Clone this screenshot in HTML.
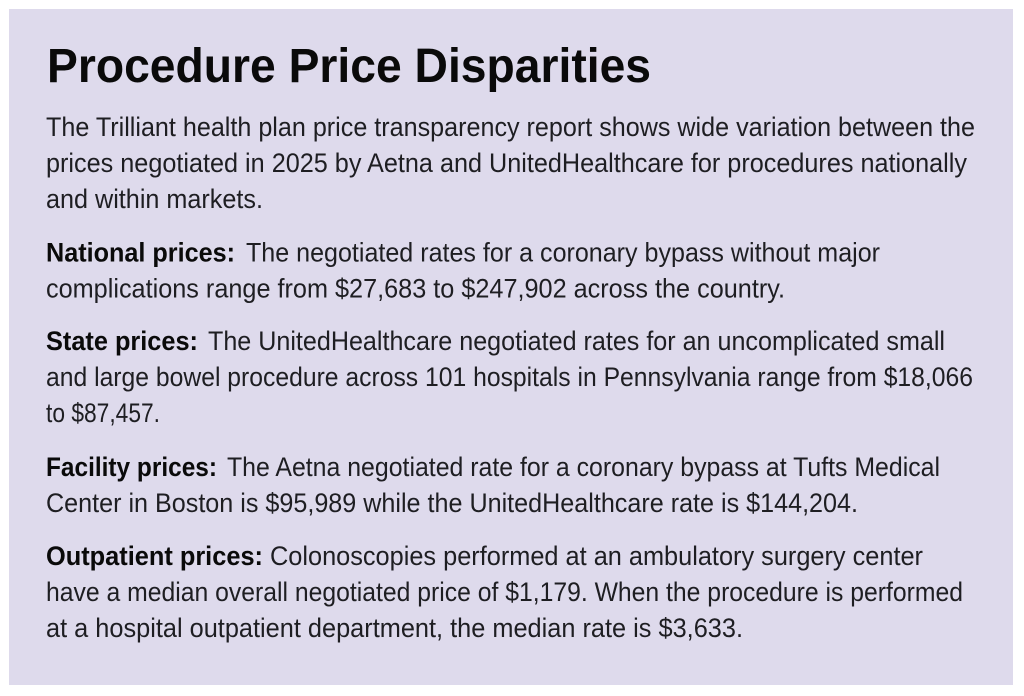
<!DOCTYPE html>
<html>
<head>
<meta charset="utf-8">
<style>
  html, body { margin:0; padding:0; background:#ffffff; }
  svg { display:block; }
  .t { font-family:"Liberation Sans", sans-serif; font-weight:bold; font-size:48px; fill:#0a0a0a; }
  .r { font-family:"Liberation Sans", sans-serif; font-size:26.5px; fill:#1e1e22; }
  .b { font-family:"Liberation Sans", sans-serif; font-weight:bold; font-size:26.5px; fill:#0a0a0a; }
</style>
</head>
<body>
<svg width="1024" height="696" viewBox="0 0 1024 696" xmlns="http://www.w3.org/2000/svg">
  <rect x="0" y="0" width="1024" height="696" fill="#ffffff"/>
  <rect x="9" y="9" width="1004" height="676" fill="#dedaec"/>

  <text class="t" x="47" y="82" textLength="604" lengthAdjust="spacingAndGlyphs">Procedure Price Disparities</text>

  <text class="r" x="46" y="136" textLength="929" lengthAdjust="spacingAndGlyphs">The Trilliant health plan price transparency report shows wide variation between the</text>
  <text class="r" x="46" y="172" textLength="921" lengthAdjust="spacingAndGlyphs">prices negotiated in 2025 by Aetna and UnitedHealthcare for procedures nationally</text>
  <text class="r" x="46" y="208" textLength="217" lengthAdjust="spacingAndGlyphs">and within markets.</text>

  <text class="b" x="46" y="261.5" textLength="189" lengthAdjust="spacingAndGlyphs">National prices:</text>
  <text class="r" x="246" y="261.5" textLength="634" lengthAdjust="spacingAndGlyphs">The negotiated rates for a coronary bypass without major</text>
  <text class="r" x="46" y="297.3" textLength="739" lengthAdjust="spacingAndGlyphs">complications range from $27,683 to $247,902 across the country.</text>

  <text class="b" x="46" y="350" textLength="152" lengthAdjust="spacingAndGlyphs">State prices:</text>
  <text class="r" x="208" y="350" textLength="737" lengthAdjust="spacingAndGlyphs">The UnitedHealthcare negotiated rates for an uncomplicated small</text>
  <text class="r" x="46" y="386" textLength="927" lengthAdjust="spacingAndGlyphs">and large bowel procedure across 101 hospitals in Pennsylvania range from $18,066</text>
  <text class="r" x="46" y="422" textLength="114" lengthAdjust="spacingAndGlyphs">to $87,457.</text>

  <text class="b" x="46" y="476" textLength="171" lengthAdjust="spacingAndGlyphs">Facility prices:</text>
  <text class="r" x="227" y="476" textLength="713" lengthAdjust="spacingAndGlyphs">The Aetna negotiated rate for a coronary bypass at Tufts Medical</text>
  <text class="r" x="46" y="512" textLength="812" lengthAdjust="spacingAndGlyphs">Center in Boston is $95,989 while the UnitedHealthcare rate is $144,204.</text>

  <text class="b" x="46" y="565" textLength="217" lengthAdjust="spacingAndGlyphs">Outpatient prices:</text>
  <text class="r" x="270" y="565" textLength="653" lengthAdjust="spacingAndGlyphs">Colonoscopies performed at an ambulatory surgery center</text>
  <text class="r" x="46" y="601" textLength="917" lengthAdjust="spacingAndGlyphs">have a median overall negotiated price of $1,179. When the procedure is performed</text>
  <text class="r" x="46" y="637" textLength="697" lengthAdjust="spacingAndGlyphs">at a hospital outpatient department, the median rate is $3,633.</text>
</svg>
</body>
</html>
